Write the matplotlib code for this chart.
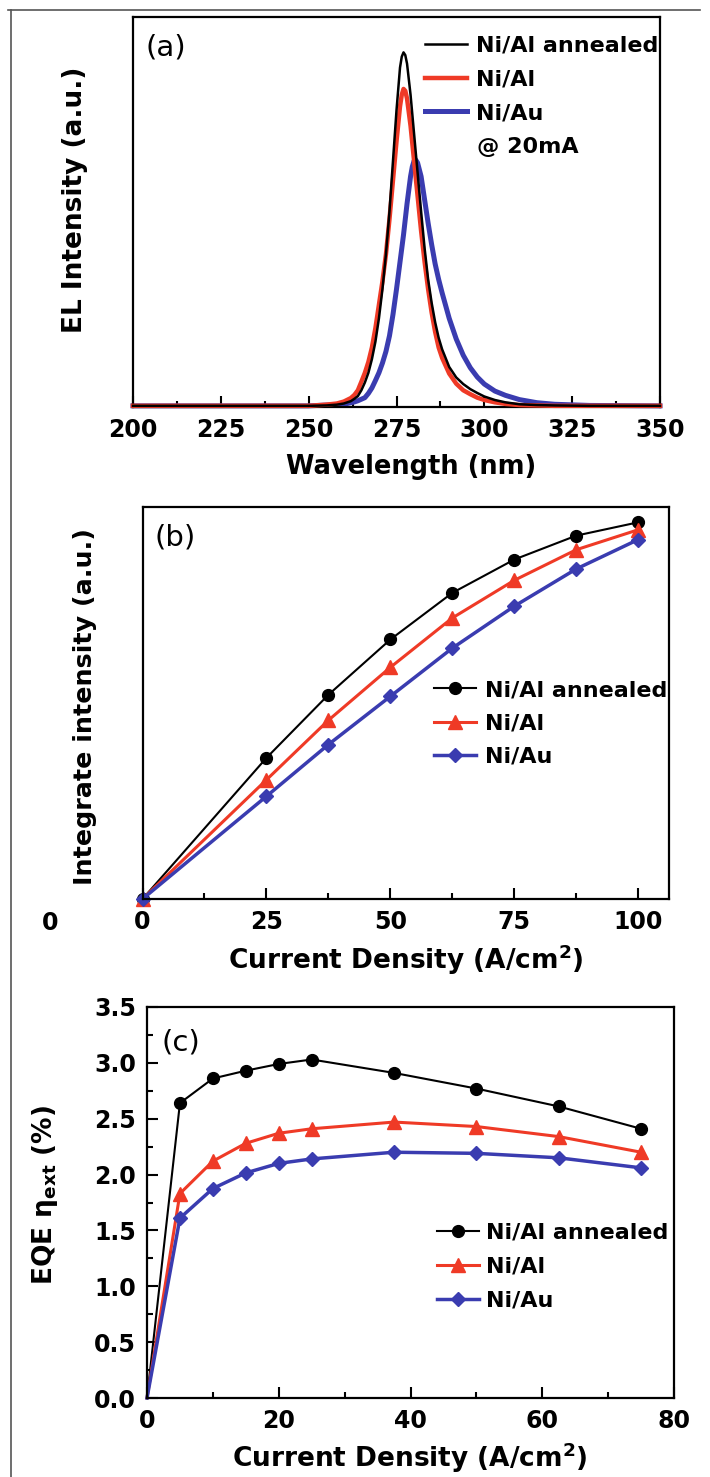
import matplotlib.pyplot as plt
from matplotlib.lines import Line2D
from matplotlib.ticker import MultipleLocator, NullLocator

plt.rcParams['font.family'] = ['DejaVu Sans']
plt.rcParams['font.weight'] = 'bold'
plt.rcParams['axes.labelweight'] = 'bold'
plt.rcParams['mathtext.default'] = 'regular'

labels = ['Ni/Al annealed', 'Ni/Al', 'Ni/Au']
colors = ['black', '#ef3a26', '#3a3cb0']

# (a) EL spectra @ 20 mA (normalised to axis height)
wavelength = [200, 250, 255, 258, 260, 262, 263, 264, 265, 266, 267, 268, 269, 270, 271, 272,
              273, 274, 275, 276, 276.5, 277, 277.5, 278, 279, 279.5, 280, 280.5, 281, 282, 283,
              284, 285, 286, 287, 288, 290, 292, 294, 296, 298, 300, 303, 306, 310, 315, 320, 330, 350]
el_annealed = [0, 0, 0.001, 0.003, 0.006, 0.012, 0.018, 0.025, 0.04, 0.06, 0.085, 0.12, 0.165, 0.225, 0.30, 0.39,
               0.50, 0.63, 0.76, 0.87, 0.898, 0.909, 0.902, 0.88, 0.80, 0.75, 0.70, 0.65, 0.60, 0.50, 0.405,
               0.325, 0.265, 0.215, 0.175, 0.145, 0.10, 0.073, 0.056, 0.043, 0.033, 0.024, 0.015, 0.009, 0.004,
               0.002, 0.001, 0, 0]
el_nial = [0, 0, 0.003, 0.006, 0.011, 0.02, 0.028, 0.04, 0.062, 0.085, 0.113, 0.15, 0.20, 0.26, 0.32, 0.39,
           0.48, 0.58, 0.68, 0.77, 0.80, 0.815, 0.81, 0.79, 0.72, 0.675, 0.63, 0.585, 0.54, 0.45, 0.37,
           0.30, 0.24, 0.19, 0.15, 0.123, 0.083, 0.057, 0.04, 0.03, 0.021, 0.015, 0.009, 0.005, 0.002,
           0.001, 0, 0, 0]
el_niau = [0, 0, 0.002, 0.003, 0.004, 0.008, 0.01, 0.013, 0.017, 0.021, 0.032, 0.046, 0.065, 0.085, 0.11, 0.14,
           0.18, 0.235, 0.30, 0.37, 0.405, 0.44, 0.48, 0.52, 0.59, 0.615, 0.63, 0.632, 0.625, 0.59, 0.53,
           0.47, 0.415, 0.365, 0.325, 0.29, 0.225, 0.172, 0.13, 0.098, 0.074, 0.056, 0.038, 0.027, 0.016,
           0.008, 0.004, 0.001, 0]

# (b) integrated intensity vs current density
jb = [0, 25, 37.5, 50, 62.5, 75, 87.5, 100]
int_annealed = [0, 0.360, 0.521, 0.662, 0.781, 0.866, 0.927, 0.961]
int_nial = [0, 0.304, 0.456, 0.591, 0.717, 0.813, 0.891, 0.942]
int_niau = [0, 0.262, 0.394, 0.517, 0.640, 0.747, 0.842, 0.917]

# (c) EQE vs current density
jc = [0, 5, 10, 15, 20, 25, 37.5, 50, 62.5, 75]
eqe_annealed = [0, 2.64, 2.86, 2.93, 2.99, 3.03, 2.91, 2.77, 2.61, 2.41]
eqe_nial = [0, 1.83, 2.12, 2.28, 2.37, 2.41, 2.47, 2.43, 2.34, 2.20]
eqe_niau = [0, 1.61, 1.875, 2.015, 2.10, 2.14, 2.20, 2.19, 2.15, 2.06]

W, H = 710, 1477
fig = plt.figure(figsize=(W / 100, H / 100), dpi=100)


def px_axes(left, top, right, bottom):
    return fig.add_axes([left / W, 1 - bottom / H, (right - left) / W, (bottom - top) / H])


def style(ax):
    for s in ax.spines.values():
        s.set_linewidth(1.6)
    ax.tick_params(which='both', direction='in', width=1.5, labelsize=17, pad=8)
    ax.tick_params(which='major', length=8)
    ax.tick_params(which='minor', length=4)


# thin frame around the figure (top and left edge only)
fig.add_artist(Line2D([8 / W, 700 / W], [1 - 10 / H, 1 - 10 / H], color='#555555', lw=1.2))
fig.add_artist(Line2D([11 / W, 11 / W], [1 - 10 / H, 0], color='#555555', lw=1.2))

# ---- (a)
ax = px_axes(133, 17, 660, 407)
lw_a = [1.8, 3.2, 3.6]
zs = [4, 3, 2]
for y, c, l, lw, z in zip([el_annealed, el_nial, el_niau], colors, labels, lw_a, zs):
    ax.plot(wavelength, y, color=c, lw=lw, label=l, clip_on=False, zorder=z)
ax.set_xlim(200, 350)
ax.set_ylim(-0.003, 1)
ax.xaxis.set_major_locator(MultipleLocator(25))
ax.xaxis.set_minor_locator(MultipleLocator(12.5))
ax.yaxis.set_major_locator(NullLocator())
style(ax)
ax.set_xlabel('Wavelength (nm)', fontsize=18.5, va='center')
ax.xaxis.set_label_coords(0.528, -0.154)
ax.set_ylabel('EL Intensity (a.u.)', fontsize=19, va='center', ha='center')
ax.yaxis.set_label_coords(-0.110, 0.531)
ax.text(0.023, 0.923, '(a)', transform=ax.transAxes, fontsize=21, fontweight='normal', va='center')
ax.legend(loc='upper left', bbox_to_anchor=(0.554, 0.952), frameon=False, fontsize=16,
          handlelength=1.9, handletextpad=0.4, labelspacing=0.62, borderpad=0, borderaxespad=0)
ax.text(0.653, 0.667, '@ 20mA', transform=ax.transAxes, fontsize=16, va='center')

# ---- (b)
ax = px_axes(142.5, 507, 669, 899)
markers = ['o', '^', 'D']
msizes = [8.5, 9.5, 7.5]
lws = [1.5, 2.2, 2.5]
for y, c, l, m, ms, lw in zip([int_annealed, int_nial, int_niau], colors, labels, markers, msizes, lws):
    ax.plot(jb, y, color=c, lw=lw, marker=m, ms=ms, label=l, clip_on=False)
ax.set_xlim(0, 106.2)
ax.set_ylim(0, 1)
ax.xaxis.set_major_locator(MultipleLocator(25))
ax.xaxis.set_minor_locator(MultipleLocator(12.5))
ax.yaxis.set_major_locator(NullLocator())
style(ax)
ax.set_xlabel('Current Density (A/cm$^2$)', fontsize=19, va='center')
ax.xaxis.set_label_coords(0.50, -0.156)
ax.set_ylabel('Integrate intensity (a.u.)', fontsize=18.3, va='center', ha='center')
ax.yaxis.set_label_coords(-0.109, 0.49)
ax.text(0.022, 0.923, '(b)', transform=ax.transAxes, fontsize=21, fontweight='normal', va='center')
ax.legend(loc='upper left', bbox_to_anchor=(0.554, 0.558), frameon=False, fontsize=16, numpoints=1,
          handlelength=1.9, handletextpad=0.4, labelspacing=0.6, borderpad=0, borderaxespad=0)
fig.text(50 / W, 1 - 923 / H, '0', fontsize=17, ha='center', va='center')

# ---- (c)
ax = px_axes(147, 1007, 674, 1398)
for y, c, l, m, ms, lw in zip([eqe_annealed, eqe_nial, eqe_niau], colors, labels, markers, msizes, lws):
    ax.plot(jc, y, color=c, lw=lw, marker=m, ms=ms, label=l, markevery=list(range(1, len(jc))), clip_on=False)
ax.set_xlim(0, 80)
ax.set_ylim(0, 3.5)
ax.xaxis.set_major_locator(MultipleLocator(20))
ax.xaxis.set_minor_locator(MultipleLocator(10))
ax.yaxis.set_major_locator(MultipleLocator(0.5))
ax.yaxis.set_minor_locator(MultipleLocator(0.25))
ax.yaxis.set_major_formatter(plt.FormatStrFormatter('%.1f'))
style(ax)
ax.set_xlabel('Current Density (A/cm$^2$)', fontsize=19, va='center')
ax.xaxis.set_label_coords(0.499, -0.153)
ax.set_ylabel(r'EQE $\eta_{ext}$ (%)', fontsize=19, va='center', ha='center')
ax.yaxis.set_label_coords(-0.194, 0.519)
ax.text(0.027, 0.91, '(c)', transform=ax.transAxes, fontsize=21, fontweight='normal', va='center')
ax.legend(loc='upper left', bbox_to_anchor=(0.55, 0.448), frameon=False, fontsize=16, numpoints=1,
          handlelength=1.9, handletextpad=0.3, labelspacing=0.63, borderpad=0, borderaxespad=0)

fig.savefig('out.png', dpi=100)
